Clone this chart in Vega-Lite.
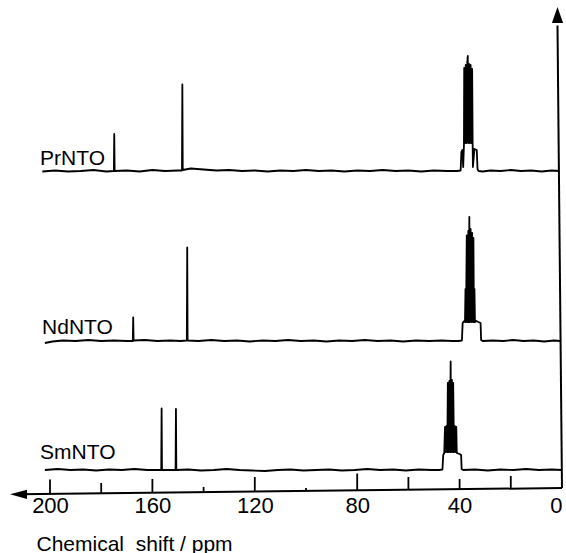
{
  "$schema": "https://vega.github.io/schema/vega-lite/v6.json",
  "width": 566,
  "height": 493,
  "autosize": {"type": "none"},
  "padding": {"top": 0, "left": 0, "right": 0, "bottom": 60},
  "background": "white",
  "config": {"view": {"stroke": null}},
  "datasets": {
    "spec": [
      {"s":"Pr","i":1,"ppm":203,"u":64.3},{"s":"Pr","i":2,"ppm":198,"u":64.5},{"s":"Pr","i":3,"ppm":193,"u":64.3},{"s":"Pr","i":4,"ppm":188,"u":64.4},{"s":"Pr","i":5,"ppm":183,"u":64.6},{"s":"Pr","i":6,"ppm":178,"u":64.3},
      {"s":"Pr","i":7,"ppm":175.05,"u":64.4},{"s":"Pr","i":8,"ppm":174.9,"u":71.8},{"s":"Pr","i":9,"ppm":174.75,"u":64.4},
      {"s":"Pr","i":10,"ppm":170,"u":64.5},{"s":"Pr","i":11,"ppm":165,"u":64.3},{"s":"Pr","i":12,"ppm":160,"u":64.6},{"s":"Pr","i":13,"ppm":155,"u":64.4},{"s":"Pr","i":14,"ppm":150,"u":64.5},
      {"s":"Pr","i":15,"ppm":148.45,"u":64.5},{"s":"Pr","i":16,"ppm":148.3,"u":81.7},{"s":"Pr","i":17,"ppm":148.15,"u":64.6},
      {"s":"Pr","i":18,"ppm":145,"u":64.9},{"s":"Pr","i":19,"ppm":140,"u":64.7},{"s":"Pr","i":20,"ppm":135,"u":64.5},{"s":"Pr","i":21,"ppm":130,"u":64.6},{"s":"Pr","i":22,"ppm":125,"u":64.4},{"s":"Pr","i":23,"ppm":120,"u":64.5},{"s":"Pr","i":24,"ppm":115,"u":64.3},{"s":"Pr","i":25,"ppm":110,"u":64.5},{"s":"Pr","i":26,"ppm":105,"u":64.4},{"s":"Pr","i":27,"ppm":100,"u":64.6},{"s":"Pr","i":28,"ppm":95,"u":64.4},{"s":"Pr","i":29,"ppm":90,"u":64.5},{"s":"Pr","i":30,"ppm":85,"u":64.3},{"s":"Pr","i":31,"ppm":80,"u":64.5},{"s":"Pr","i":32,"ppm":75,"u":64.4},{"s":"Pr","i":33,"ppm":70,"u":64.6},{"s":"Pr","i":34,"ppm":65,"u":64.4},{"s":"Pr","i":35,"ppm":60,"u":64.5},{"s":"Pr","i":36,"ppm":55,"u":64.3},{"s":"Pr","i":37,"ppm":50,"u":64.5},{"s":"Pr","i":38,"ppm":45,"u":64.4},
      {"s":"Pr","i":39,"ppm":41,"u":64.4},{"s":"Pr","i":40,"ppm":39.6,"u":64.5},{"s":"Pr","i":41,"ppm":39.3,"u":68.2},{"s":"Pr","i":42,"ppm":38.9,"u":68.6},{"s":"Pr","i":43,"ppm":38.6,"u":65.2},{"s":"Pr","i":44,"ppm":38.3,"u":69.6},
      {"s":"Pr","i":45,"ppm":38.2,"u":85.0},{"s":"Pr","i":46,"ppm":37.9,"u":70.0},{"s":"Pr","i":47,"ppm":37.6,"u":85.6},{"s":"Pr","i":48,"ppm":37.3,"u":70.0},{"s":"Pr","i":49,"ppm":37.0,"u":86.2},{"s":"Pr","i":50,"ppm":36.8,"u":87.4},{"s":"Pr","i":51,"ppm":36.6,"u":70.0},{"s":"Pr","i":52,"ppm":36.3,"u":85.8},{"s":"Pr","i":53,"ppm":36.0,"u":70.0},{"s":"Pr","i":54,"ppm":35.7,"u":85.6},{"s":"Pr","i":55,"ppm":35.4,"u":70.0},{"s":"Pr","i":56,"ppm":35.1,"u":84.8},{"s":"Pr","i":57,"ppm":34.9,"u":69.8},
      {"s":"Pr","i":58,"ppm":34.8,"u":65.2},{"s":"Pr","i":59,"ppm":34.2,"u":68.8},{"s":"Pr","i":60,"ppm":33.3,"u":68.6},{"s":"Pr","i":61,"ppm":33.0,"u":64.8},{"s":"Pr","i":62,"ppm":32.6,"u":64.4},{"s":"Pr","i":63,"ppm":31,"u":64.3},
      {"s":"Pr","i":64,"ppm":28,"u":64.5},{"s":"Pr","i":65,"ppm":24,"u":64.4},{"s":"Pr","i":66,"ppm":20,"u":64.6},{"s":"Pr","i":67,"ppm":16,"u":64.4},{"s":"Pr","i":68,"ppm":12,"u":64.5},{"s":"Pr","i":69,"ppm":8,"u":64.3},{"s":"Pr","i":70,"ppm":4,"u":64.5},{"s":"Pr","i":71,"ppm":1,"u":64.4},

      {"s":"Nd","i":1,"ppm":202,"u":30.0},{"s":"Nd","i":2,"ppm":199,"u":30.3},{"s":"Nd","i":3,"ppm":195,"u":30.5},{"s":"Nd","i":4,"ppm":190,"u":30.4},{"s":"Nd","i":5,"ppm":185,"u":30.6},{"s":"Nd","i":6,"ppm":180,"u":30.4},{"s":"Nd","i":7,"ppm":175,"u":30.5},{"s":"Nd","i":8,"ppm":170,"u":30.4},
      {"s":"Nd","i":9,"ppm":167.65,"u":30.4},{"s":"Nd","i":10,"ppm":167.5,"u":35.1},{"s":"Nd","i":11,"ppm":167.35,"u":30.5},
      {"s":"Nd","i":12,"ppm":163,"u":30.6},{"s":"Nd","i":13,"ppm":158,"u":30.4},{"s":"Nd","i":14,"ppm":153,"u":30.5},{"s":"Nd","i":15,"ppm":149,"u":30.4},
      {"s":"Nd","i":16,"ppm":146.55,"u":30.5},{"s":"Nd","i":17,"ppm":146.4,"u":49.1},{"s":"Nd","i":18,"ppm":146.25,"u":30.5},
      {"s":"Nd","i":19,"ppm":142,"u":30.4},{"s":"Nd","i":20,"ppm":137,"u":30.6},{"s":"Nd","i":21,"ppm":132,"u":30.4},{"s":"Nd","i":22,"ppm":127,"u":30.5},{"s":"Nd","i":23,"ppm":122,"u":30.3},{"s":"Nd","i":24,"ppm":117,"u":30.5},{"s":"Nd","i":25,"ppm":112,"u":30.4},{"s":"Nd","i":26,"ppm":107,"u":30.6},{"s":"Nd","i":27,"ppm":102,"u":30.4},{"s":"Nd","i":28,"ppm":97,"u":30.5},{"s":"Nd","i":29,"ppm":92,"u":30.3},{"s":"Nd","i":30,"ppm":87,"u":30.5},{"s":"Nd","i":31,"ppm":82,"u":30.4},{"s":"Nd","i":32,"ppm":77,"u":30.6},{"s":"Nd","i":33,"ppm":72,"u":30.4},{"s":"Nd","i":34,"ppm":67,"u":30.5},{"s":"Nd","i":35,"ppm":62,"u":30.3},{"s":"Nd","i":36,"ppm":57,"u":30.5},{"s":"Nd","i":37,"ppm":52,"u":30.4},{"s":"Nd","i":38,"ppm":47,"u":30.5},{"s":"Nd","i":39,"ppm":43,"u":30.4},
      {"s":"Nd","i":40,"ppm":40.5,"u":30.4},{"s":"Nd","i":41,"ppm":39.1,"u":30.5},{"s":"Nd","i":42,"ppm":38.8,"u":34.0},{"s":"Nd","i":43,"ppm":38.2,"u":34.4},
      {"s":"Nd","i":44,"ppm":37.9,"u":34.2},{"s":"Nd","i":45,"ppm":37.7,"u":40.8},{"s":"Nd","i":46,"ppm":37.5,"u":34.2},{"s":"Nd","i":47,"ppm":37.2,"u":51.5},{"s":"Nd","i":48,"ppm":36.9,"u":34.2},{"s":"Nd","i":49,"ppm":36.6,"u":52.4},{"s":"Nd","i":50,"ppm":36.4,"u":34.2},{"s":"Nd","i":51,"ppm":36.2,"u":55.2},{"s":"Nd","i":52,"ppm":36.0,"u":34.2},{"s":"Nd","i":53,"ppm":35.7,"u":52.8},{"s":"Nd","i":54,"ppm":35.4,"u":34.2},{"s":"Nd","i":55,"ppm":35.1,"u":52.0},{"s":"Nd","i":56,"ppm":34.8,"u":34.2},{"s":"Nd","i":57,"ppm":34.6,"u":51.0},{"s":"Nd","i":58,"ppm":34.4,"u":34.2},{"s":"Nd","i":59,"ppm":34.2,"u":40.8},{"s":"Nd","i":60,"ppm":34.0,"u":34.2},
      {"s":"Nd","i":61,"ppm":33.5,"u":34.4},{"s":"Nd","i":62,"ppm":31.8,"u":34.0},{"s":"Nd","i":63,"ppm":31.6,"u":30.6},{"s":"Nd","i":64,"ppm":31.0,"u":30.4},
      {"s":"Nd","i":65,"ppm":27,"u":30.5},{"s":"Nd","i":66,"ppm":23,"u":30.4},{"s":"Nd","i":67,"ppm":19,"u":30.6},{"s":"Nd","i":68,"ppm":15,"u":30.4},{"s":"Nd","i":69,"ppm":11,"u":30.5},{"s":"Nd","i":70,"ppm":7,"u":30.3},{"s":"Nd","i":71,"ppm":3,"u":30.5},{"s":"Nd","i":72,"ppm":0.8,"u":30.4},

      {"s":"Sm","i":1,"ppm":202,"u":4.6},{"s":"Sm","i":2,"ppm":197,"u":4.8},{"s":"Sm","i":3,"ppm":192,"u":4.6},{"s":"Sm","i":4,"ppm":187,"u":4.7},{"s":"Sm","i":5,"ppm":182,"u":4.5},{"s":"Sm","i":6,"ppm":177,"u":4.7},{"s":"Sm","i":7,"ppm":172,"u":4.6},{"s":"Sm","i":8,"ppm":167,"u":4.8},{"s":"Sm","i":9,"ppm":162,"u":4.6},
      {"s":"Sm","i":10,"ppm":156.55,"u":4.6},{"s":"Sm","i":11,"ppm":156.4,"u":16.9},{"s":"Sm","i":12,"ppm":156.25,"u":4.6},
      {"s":"Sm","i":13,"ppm":153,"u":4.6},
      {"s":"Sm","i":14,"ppm":150.95,"u":4.6},{"s":"Sm","i":15,"ppm":150.8,"u":16.8},{"s":"Sm","i":16,"ppm":150.65,"u":4.6},
      {"s":"Sm","i":17,"ppm":146,"u":4.7},{"s":"Sm","i":18,"ppm":141,"u":4.5},{"s":"Sm","i":19,"ppm":136,"u":4.6},{"s":"Sm","i":20,"ppm":131,"u":4.8},{"s":"Sm","i":21,"ppm":126,"u":4.6},{"s":"Sm","i":22,"ppm":121,"u":4.5},{"s":"Sm","i":23,"ppm":116,"u":4.4},{"s":"Sm","i":24,"ppm":111,"u":4.6},{"s":"Sm","i":25,"ppm":106,"u":4.7},{"s":"Sm","i":26,"ppm":101,"u":4.5},{"s":"Sm","i":27,"ppm":96,"u":4.6},{"s":"Sm","i":28,"ppm":91,"u":4.7},{"s":"Sm","i":29,"ppm":86,"u":4.5},{"s":"Sm","i":30,"ppm":81,"u":4.6},{"s":"Sm","i":31,"ppm":76,"u":4.8},{"s":"Sm","i":32,"ppm":71,"u":4.6},{"s":"Sm","i":33,"ppm":66,"u":4.7},{"s":"Sm","i":34,"ppm":61,"u":4.5},{"s":"Sm","i":35,"ppm":56,"u":4.7},{"s":"Sm","i":36,"ppm":51,"u":4.6},
      {"s":"Sm","i":37,"ppm":48,"u":4.6},{"s":"Sm","i":38,"ppm":46.7,"u":4.7},{"s":"Sm","i":39,"ppm":46.4,"u":7.6},{"s":"Sm","i":40,"ppm":46.0,"u":8.0},
      {"s":"Sm","i":41,"ppm":45.7,"u":13.2},{"s":"Sm","i":42,"ppm":45.4,"u":8.2},{"s":"Sm","i":43,"ppm":45.1,"u":13.4},{"s":"Sm","i":44,"ppm":44.8,"u":8.2},{"s":"Sm","i":45,"ppm":44.6,"u":22.0},{"s":"Sm","i":46,"ppm":44.3,"u":8.2},{"s":"Sm","i":47,"ppm":44.0,"u":22.4},{"s":"Sm","i":48,"ppm":43.7,"u":8.2},{"s":"Sm","i":49,"ppm":43.5,"u":26.3},{"s":"Sm","i":50,"ppm":43.3,"u":8.2},{"s":"Sm","i":51,"ppm":43.0,"u":22.6},{"s":"Sm","i":52,"ppm":42.7,"u":8.2},{"s":"Sm","i":53,"ppm":42.5,"u":22.0},{"s":"Sm","i":54,"ppm":42.2,"u":8.2},{"s":"Sm","i":55,"ppm":41.9,"u":13.4},{"s":"Sm","i":56,"ppm":41.6,"u":8.2},{"s":"Sm","i":57,"ppm":41.3,"u":13.2},{"s":"Sm","i":58,"ppm":41.1,"u":8.0},
      {"s":"Sm","i":59,"ppm":40.0,"u":7.8},{"s":"Sm","i":60,"ppm":39.4,"u":7.6},{"s":"Sm","i":61,"ppm":39.2,"u":4.8},{"s":"Sm","i":62,"ppm":38.6,"u":4.6},
      {"s":"Sm","i":63,"ppm":34,"u":4.7},{"s":"Sm","i":64,"ppm":29,"u":4.5},{"s":"Sm","i":65,"ppm":24,"u":4.7},{"s":"Sm","i":66,"ppm":19,"u":4.6},{"s":"Sm","i":67,"ppm":14,"u":4.8},{"s":"Sm","i":68,"ppm":9,"u":4.6},{"s":"Sm","i":69,"ppm":4,"u":4.7},{"s":"Sm","i":70,"ppm":0,"u":4.6}
    ],
    "lines": [
      {"ppm": 212, "u": -0.27, "ppm2": 0, "u2": 1.0},
      {"ppm": 0, "u": 1.0, "ppm2": 1.76, "u2": 93.5}
    ],
    "ticks": [
      {"ppm": 200, "u": -0.2, "u2": 2.7},
      {"ppm": 180, "u": -0.08, "u2": 2.0},
      {"ppm": 160, "u": 0.04, "u2": 2.8},
      {"ppm": 140, "u": 0.16, "u2": 1.2},
      {"ppm": 120, "u": 0.28, "u2": 3.2},
      {"ppm": 100, "u": 0.4, "u2": 1.0},
      {"ppm": 80, "u": 0.52, "u2": 3.9},
      {"ppm": 60, "u": 0.64, "u2": 3.2},
      {"ppm": 40, "u": 0.76, "u2": 2.8},
      {"ppm": 20, "u": 0.88, "u2": 3.4}
    ],
    "labels": [
      {"label": "PrNTO", "ppm": 203.9, "u": 65.6},
      {"label": "NdNTO", "ppm": 203.1, "u": 31.8},
      {"label": "SmNTO", "ppm": 203.9, "u": 6.8}
    ]
  },
  "encoding": {
    "x": {
      "field": "ppm",
      "type": "quantitative",
      "scale": {"domain": [-1.5625, 219.53], "reverse": true, "nice": false, "zero": false},
      "axis": {
        "values": [200, 160, 120, 80, 40, 0],
        "title": "Chemical\u00a0 shift / ppm",
        "domain": false,
        "ticks": false,
        "grid": false,
        "labelFont": "Liberation Sans",
        "labelFontSize": 22,
        "labelColor": "black",
        "labelPadding": 2,
        "labelFlush": 5,
        "labelOverlap": false,
        "titleFont": "Liberation Sans",
        "titleFontSize": 21,
        "titleFontWeight": "normal",
        "titleColor": "black",
        "titleAnchor": "start",
        "titleAlign": "left",
        "titleBaseline": "alphabetic",
        "titleX": 36,
        "titleY": 57
      }
    },
    "y": {
      "field": "u",
      "type": "quantitative",
      "scale": {"domain": [0, 98.6], "nice": false, "zero": false},
      "axis": null
    }
  },
  "layer": [
    {
      "data": {"name": "spec"},
      "mark": {"type": "line", "color": "black", "strokeWidth": 1.8, "strokeJoin": "round", "clip": false},
      "encoding": {
        "detail": {"field": "s"},
        "order": {"field": "i", "type": "quantitative"}
      }
    },
    {
      "data": {"name": "lines"},
      "mark": {"type": "rule", "color": "black", "strokeWidth": 2},
      "encoding": {
        "x2": {"field": "ppm2"},
        "y2": {"field": "u2"}
      }
    },
    {
      "data": {"name": "ticks"},
      "mark": {"type": "rule", "color": "black", "strokeWidth": 1.8},
      "encoding": {
        "y2": {"field": "u2"}
      }
    },
    {
      "data": {"values": [{"ppm": 212.3, "u": -0.27}]},
      "mark": {"type": "point", "shape": "M-1,0L1,-0.55L1,0.55Z", "size": 289, "filled": true, "color": "black", "opacity": 1, "strokeWidth": 0}
    },
    {
      "data": {"values": [{"ppm": 1.76, "u": 95.6}]},
      "mark": {"type": "point", "shape": "M0,-1L0.7,1L-0.7,1Z", "size": 256, "filled": true, "color": "black", "opacity": 1, "strokeWidth": 0}
    },
    {
      "data": {"name": "labels"},
      "mark": {"type": "text", "font": "Liberation Sans", "fontSize": 21, "align": "left", "baseline": "alphabetic", "color": "black"},
      "encoding": {
        "text": {"field": "label"}
      }
    }
  ]
}
